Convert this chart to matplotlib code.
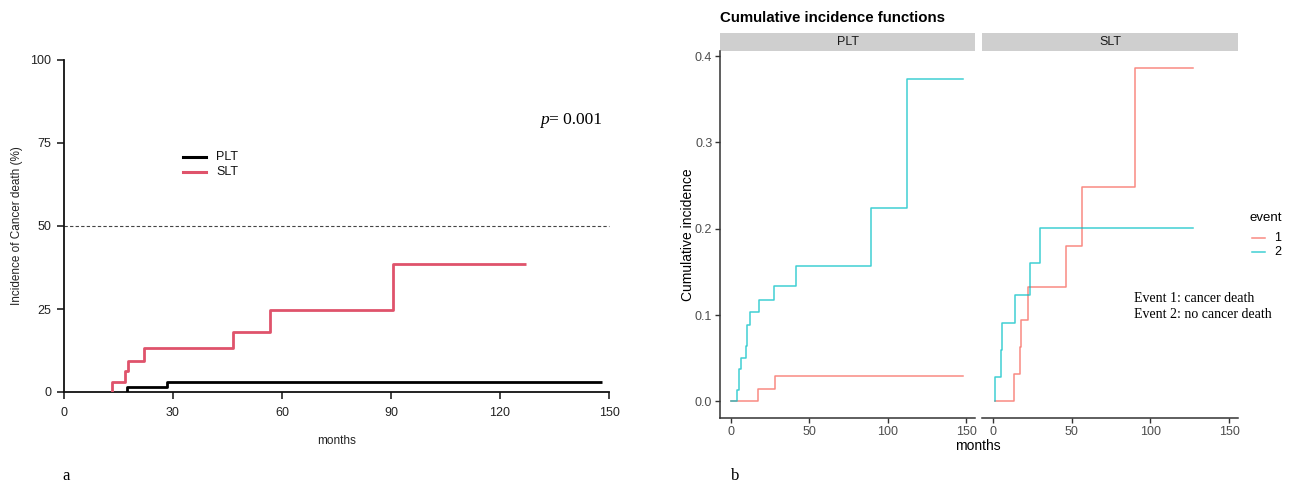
import matplotlib
matplotlib.use('Agg')
import matplotlib.pyplot as plt
from matplotlib.lines import Line2D
from matplotlib.patches import Rectangle

# ---------------- data (cumulative incidence, fraction) ----------------
groups = ['PLT', 'SLT']
events = ['1', '2']
event_notes = ['Event 1: cancer death', 'Event 2: no cancer death']

plt_cd_time = [0, 17.3, 28.3, 148.2]
plt_cd_ci = [0, 0.0145, 0.030, 0.030]
plt_ncd_time = [0, 3.5, 5.2, 6.1, 9.4, 10.3, 12.1, 18.0, 27.4, 41.2, 89.0, 112.2, 148.2]
plt_ncd_ci = [0, 0.0127, 0.037, 0.050, 0.064, 0.089, 0.103, 0.117, 0.134, 0.157, 0.224, 0.373, 0.373]

slt_cd_time = [1.1, 13.3, 16.8, 17.6, 22.0, 46.4, 56.6, 90.5, 127.1]
slt_cd_ci = [0, 0.0316, 0.0630, 0.0945, 0.132, 0.180, 0.248, 0.386, 0.386]
slt_ncd_time = [1.1, 1.1, 4.7, 5.7, 14.2, 23.3, 29.7, 127.1]
slt_ncd_ci = [0, 0.028, 0.059, 0.0906, 0.1227, 0.160, 0.2006, 0.2006]

left_xticks = [0, 30, 60, 90, 120, 150]
left_yticks = [0, 25, 50, 75, 100]
right_xticks = [0, 50, 100, 150]
right_yticks = [0.0, 0.1, 0.2, 0.3, 0.4]
p_value = '0.001'

W, H = 1293, 484
fig = plt.figure(figsize=(W / 100, H / 100), dpi=100)
fig.patch.set_facecolor('white')

def fx(px):
    return px / W

def fy(py):
    return 1 - py / H

SANS = 'Liberation Sans'
SERIF = 'Liberation Serif'

# ---------------- left panel (a) ----------------
axL = fig.add_axes([fx(64), fy(392), fx(609) - fx(64), fy(60) - fy(392)])
black = '#000000'
red = '#DF536B'
axL.step([plt_cd_time[1]] + plt_cd_time[1:], [0] + [v * 100 for v in plt_cd_ci[1:]],
         where='post', color=black, lw=2.0, solid_capstyle='butt', zorder=3)
axL.step([slt_cd_time[1]] + slt_cd_time[1:], [0] + [v * 100 for v in slt_cd_ci[1:]],
         where='post', color=red, lw=2.0, solid_capstyle='butt', zorder=3)
axL.axhline(50, color='#444444', lw=0.8, ls=(0, (3, 2)), zorder=1, clip_on=False,
            xmin=0, xmax=1.0)
axL.set_xlim(0, 150)
axL.set_ylim(0, 100)
axL.set_xticks(left_xticks)
axL.set_yticks(left_yticks)
for s in ['top', 'right']:
    axL.spines[s].set_visible(False)
for s in ['left', 'bottom']:
    axL.spines[s].set_linewidth(1.3)
    axL.spines[s].set_color('#111111')
axL.tick_params(direction='out', length=5, width=1.1, color='#111111',
                labelsize=9, labelcolor='#222222', pad=6)
axL.tick_params(axis='y', pad=4)
for lab in axL.get_xticklabels() + axL.get_yticklabels():
    lab.set_family(SANS)
axL.set_xlabel('months', family=SANS, fontsize=8.5, color='#222222')
axL.xaxis.set_label_coords(0.5, -0.13)
axL.set_ylabel('Incidence of Cancer death (%)', family=SANS, fontsize=8.5,
               color='#222222', va='center')
axL.yaxis.set_label_coords(-0.086, 0.5)

# legend in left panel
fig.add_artist(Line2D([fx(183), fx(206)], [fy(157), fy(157)], color=black, lw=2.2))
fig.add_artist(Line2D([fx(183), fx(206)], [fy(172), fy(172)], color=red, lw=2.2))
fig.text(fx(216), fy(157), groups[0], family=SANS, fontsize=9, va='center', color='#111111')
fig.text(fx(216), fy(172), groups[1], family=SANS, fontsize=9, va='center', color='#111111')

# p-value
tp = axL.text(0.874, 0.808, 'p', transform=axL.transAxes, family=SERIF, style='italic',
              fontsize=12.5, va='baseline', ha='left')
axL.annotate('= ' + p_value, xy=(1, 0), xycoords=tp, family=SERIF, fontsize=12.5,
             va='bottom', ha='left')

fig.text(fx(62), fy(476), 'a', family=SERIF, fontsize=12, va='center')
fig.text(fx(731), fy(476), 'b', family=SERIF, fontsize=12, va='center')

# ---------------- right panels (b) ----------------
pink = '#F8766D'
teal = '#00BFC4'
xlim_r = (-7.1, 155.7)
ylim_r = (-0.0192, 0.4058)

panels = [
    (720, 975, plt_cd_time, plt_cd_ci, plt_ncd_time, plt_ncd_ci, groups[0], True),
    (982, 1238, slt_cd_time, slt_cd_ci, slt_ncd_time, slt_ncd_ci, groups[1], False),
]
axes_r = []
for (x0, x1, t1, c1, t2, c2, name, first) in panels:
    ax = fig.add_axes([fx(x0), fy(418), fx(x1) - fx(x0), fy(51) - fy(418)])
    axes_r.append(ax)
    ax.step(t1, c1, where='post', color=pink, lw=1.1, alpha=0.85)
    ax.step(t2, c2, where='post', color=teal, lw=1.1, alpha=0.75)
    ax.set_xlim(*xlim_r)
    ax.set_ylim(*ylim_r)
    ax.set_xticks(right_xticks)
    ax.set_xticklabels([str(v) for v in right_xticks])
    for s in ['top', 'right']:
        ax.spines[s].set_visible(False)
    ax.spines['bottom'].set_color('#333333')
    ax.spines['bottom'].set_linewidth(1.1)
    if first:
        ax.spines['left'].set_color('#333333')
        ax.spines['left'].set_linewidth(1.1)
        ax.set_yticks(right_yticks)
        ax.set_yticklabels(['%.1f' % v for v in right_yticks])
        ax.set_ylabel('Cumulative incidence', family=SANS, fontsize=10, va='center')
        ax.yaxis.set_label_coords(-0.125, 0.5)
    else:
        ax.spines['left'].set_visible(False)
        ax.set_yticks([])
    ax.tick_params(direction='out', length=3.5, width=1.0, color='#333333',
                   labelsize=9, labelcolor='#4D4D4D', pad=2)
    for lab in ax.get_xticklabels() + ax.get_yticklabels():
        lab.set_family(SANS)
    # strip
    fig.add_artist(Rectangle((fx(x0), fy(51)), fx(x1) - fx(x0), fy(33) - fy(51),
                             transform=fig.transFigure, facecolor='#CFCFCF',
                             edgecolor='none', zorder=0))
    fig.text((fx(x0) + fx(x1)) / 2, (fy(33) + fy(51)) / 2, name, family=SANS,
             fontsize=9, color='#1A1A1A', ha='center', va='center')

fig.text(fx(720), fy(18), 'Cumulative incidence functions', family=SANS,
         fontweight='bold', fontsize=10.8, va='center', ha='left')
fig.text(fx(978), fy(446), 'months', family=SANS, fontsize=10, ha='center', va='center')

# event notes in SLT panel
axes_r[1].text(0.594, 0.305, event_notes[0] + '\n' + event_notes[1],
               transform=axes_r[1].transAxes, family=SERIF, fontsize=10,
               ha='left', va='center', linespacing=1.3)

# legend
fig.text(fx(1250), fy(218), 'event', family=SANS, fontsize=9.5, va='center', ha='left')
fig.add_artist(Line2D([fx(1252), fx(1265)], [fy(238), fy(238)], color=pink, lw=1.1, alpha=0.85))
fig.add_artist(Line2D([fx(1252), fx(1265)], [fy(252), fy(252)], color=teal, lw=1.1, alpha=0.75))
fig.text(fx(1274), fy(238), events[0], family=SANS, fontsize=9, va='center', ha='left')
fig.text(fx(1274), fy(252), events[1], family=SANS, fontsize=9, va='center', ha='left')

fig.savefig('out.png', dpi=100, facecolor='white')
